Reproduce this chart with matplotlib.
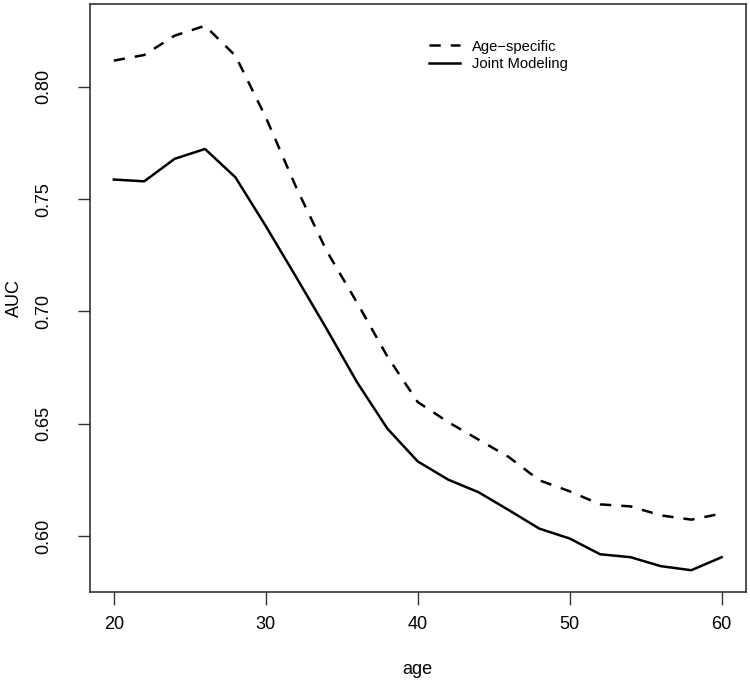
import numpy as np
import matplotlib
matplotlib.use("Agg")
import matplotlib.pyplot as plt

plt.rcParams['font.family'] = ['Liberation Sans', 'DejaVu Sans']

age = [20, 22, 24, 26, 28, 30, 32, 34, 36, 38, 40, 42, 44, 46, 48, 50, 52, 54, 56, 58, 60]
auc_age_specific = [0.8116, 0.8141, 0.8227, 0.8271, 0.8138, 0.7864, 0.7552, 0.7270, 0.7040,
                    0.6800, 0.6597, 0.6508, 0.6430, 0.6352, 0.6249, 0.6200, 0.6142, 0.6133,
                    0.6093, 0.6074, 0.6101]
auc_joint = [0.7587, 0.7579, 0.7679, 0.7723, 0.7597, 0.7380, 0.7153, 0.6923, 0.6686,
             0.6479, 0.6333, 0.6252, 0.6196, 0.6116, 0.6034, 0.5990, 0.5920, 0.5907,
             0.5867, 0.5849, 0.5907]
xticks = [20, 30, 40, 50, 60]
yticks = [0.60, 0.65, 0.70, 0.75, 0.80]

W, H = 750, 686
fig = plt.figure(figsize=(W / 100, H / 100), dpi=100)
ax = fig.add_axes([89.5 / W, (H - 592) / H, (746 - 89.5) / W, (592 - 4) / H])

ax.plot(age, auc_age_specific, color="black", lw=1.8, dashes=(4.5, 4),
        label="Age\u2212specific")
ax.plot(age, auc_joint, color="black", lw=1.8, label="Joint Modeling")

# R style 4% padding on both axes
ax.margins(x=0.04, y=0.04)

ax.set_xticks(xticks)
ax.set_yticks(yticks)
ax.set_yticklabels(["%.2f" % v for v in yticks], rotation=90, va="center")
ax.tick_params(direction="out", length=9, width=1, color="#333333", labelsize=13)
ax.tick_params(axis="x", pad=8)
ax.tick_params(axis="y", pad=18)
for s in ax.spines.values():
    s.set_color("#333333")
    s.set_linewidth(1.2)

ax.set_xlabel("age", fontsize=13, labelpad=20.5)
ax.set_ylabel("AUC", fontsize=13, labelpad=9)

ax.legend(loc="upper left", bbox_to_anchor=(0.497, 0.962), frameon=False, fontsize=10.6,
          handlelength=2.1, handletextpad=0.8, labelspacing=0.22)

fig.savefig("out.png", dpi=100)
